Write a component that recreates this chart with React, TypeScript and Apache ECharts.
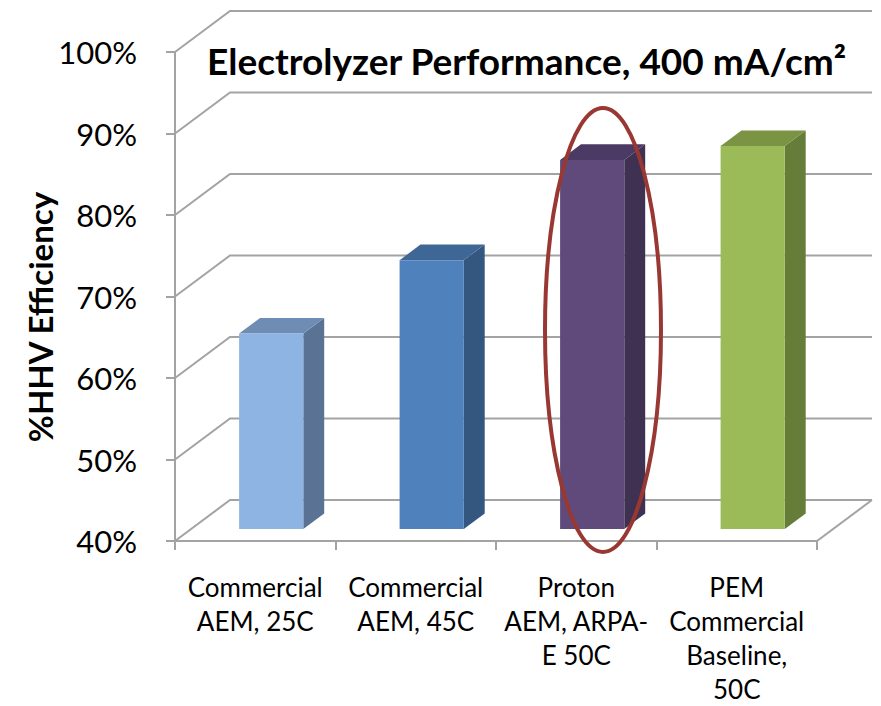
import React, { useEffect, useRef } from "react";
import * as echarts from "echarts";

// Categories, values and tick marks of the chart
const categories = [
  "Commercial\nAEM, 25C",
  "Commercial\nAEM, 45C",
  "Proton\nAEM, ARPA-\nE 50C",
  "PEM\nCommercial\nBaseline,\n50C",
];
const efficiency = [64, 73, 85.3, 87];
const yTicks = [40, 50, 60, 70, 80, 90, 100];

// Bar face colours (front, side, top)
const frontColors = ["#8EB4E3", "#4F81BD", "#604A7B", "#9BBB59"];
const sideColors = ["#5A7294", "#34577F", "#3F3151", "#667D3A"];
const topColors = ["#6E8CB4", "#3E6796", "#4B3A63", "#7A9444"];

// Oblique depth of the plot box (pixels) and where bars sit inside it
const DX = 55;
const DY = -41;
const BAR_FRONT = 0.29;
const BAR_DEPTH = 0.38;
const GRID_COLOR = "#A3A3A3";
const FONT = "Lato, 'Open Sans', sans-serif";

export default function App() {
  const ref = useRef<HTMLDivElement>(null);

  useEffect(() => {
    document.body.style.margin = "0";
    const chart = echarts.init(ref.current!, undefined, { renderer: "svg" });

    const option: any = {
      animation: false,
      backgroundColor: "#FFFFFF",
      title: {
        text: "Electrolyzer Performance, 400 mA/cm²",
        left: 207,
        top: 42,
        padding: 0,
        textStyle: { fontFamily: FONT, fontWeight: "bold", fontSize: 37, color: "#000" },
      },
      grid: {
        left: 175,
        top: 52,
        width: 642,
        height: 489,
        containLabel: false,
        outerBoundsMode: "none",
      },
      xAxis: {
        type: "category",
        data: categories,
        axisLine: { show: true, lineStyle: { color: GRID_COLOR, width: 2 } },
        axisTick: { show: true, length: 9, interval: 0, lineStyle: { color: GRID_COLOR, width: 2 } },
        axisLabel: {
          interval: 0,
          margin: 29,
          fontFamily: FONT,
          fontSize: 26,
          lineHeight: 34,
          color: "#000",
        },
      },
      yAxis: {
        type: "value",
        min: 40,
        max: 100,
        interval: 10,
        axisLine: { show: true, lineStyle: { color: GRID_COLOR, width: 2 } },
        axisTick: { show: true, length: 9, lineStyle: { color: GRID_COLOR, width: 2 } },
        splitLine: { show: false },
        axisLabel: {
          formatter: "{value}%",
          margin: 38,
          fontFamily: FONT,
          fontSize: 31,
          color: "#000",
        },
      },
      graphic: [
        {
          type: "text",
          x: 40,
          y: 317,
          rotation: Math.PI / 2,
          style: {
            text: "%HHV Efficiency",
            font: `bold 33px ${FONT}`,
            fill: "#000",
            textAlign: "center",
            textVerticalAlign: "middle",
          },
        },
        {
          type: "ellipse",
          z: 100,
          shape: { cx: 603, cy: 330, rx: 58, ry: 222 },
          style: { fill: "none", stroke: "#993833", lineWidth: 4 },
        },
      ],
      series: [
        {
          // back wall and floor grid lines
          type: "custom",
          silent: true,
          z: 1,
          encode: { x: 0, y: 1 },
          data: yTicks.map((v) => [0, v]),
          renderItem: (params: any, api: any) => {
            const v = api.value(1);
            const p = api.coord([0, v]);
            const cs = params.coordSys;
            const left = cs.x;
            const right = cs.x + cs.width;
            const y = p[1];
            const children: any[] = [
              {
                type: "polyline",
                shape: { points: [[left, y], [left + DX, y + DY], [right + DX, y + DY]] },
                style: { stroke: GRID_COLOR, lineWidth: 2, fill: "none" },
              },
            ];
            if (v === yTicks[0]) {
              children.push({
                type: "line",
                shape: { x1: right, y1: y, x2: right + DX, y2: y + DY },
                style: { stroke: GRID_COLOR, lineWidth: 2 },
              });
            }
            return { type: "group", children };
          },
        },
        {
          // 3D-looking bars
          type: "custom",
          silent: true,
          z: 5,
          encode: { x: 0, y: 1 },
          data: efficiency.map((v, i) => [i, v]),
          renderItem: (params: any, api: any) => {
            const i = params.dataIndex;
            const v = api.value(1);
            const base = api.coord([i, yTicks[0]]);
            const top = api.coord([i, v]);
            const band = api.size([1, 0])[0];
            const w = band * 0.4;
            const fx = base[0] + DX * BAR_FRONT - w / 2;
            const fy0 = base[1] + DY * BAR_FRONT;
            const fy1 = top[1] + DY * BAR_FRONT;
            const bx = DX * BAR_DEPTH;
            const by = DY * BAR_DEPTH;
            return {
              type: "group",
              children: [
                {
                  type: "polygon",
                  shape: { points: [[fx + w, fy1], [fx + w + bx, fy1 + by], [fx + w + bx, fy0 + by], [fx + w, fy0]] },
                  style: { fill: sideColors[i] },
                },
                {
                  type: "polygon",
                  shape: { points: [[fx, fy1], [fx + bx, fy1 + by], [fx + w + bx, fy1 + by], [fx + w, fy1]] },
                  style: { fill: topColors[i] },
                },
                {
                  type: "rect",
                  shape: { x: fx, y: fy1, width: w, height: fy0 - fy1 },
                  style: { fill: frontColors[i] },
                },
              ],
            };
          },
        },
      ],
    };

    chart.setOption(option);
    return () => chart.dispose();
  }, []);

  return <div ref={ref} style={{ width: 881, height: 706 }} />;
}
